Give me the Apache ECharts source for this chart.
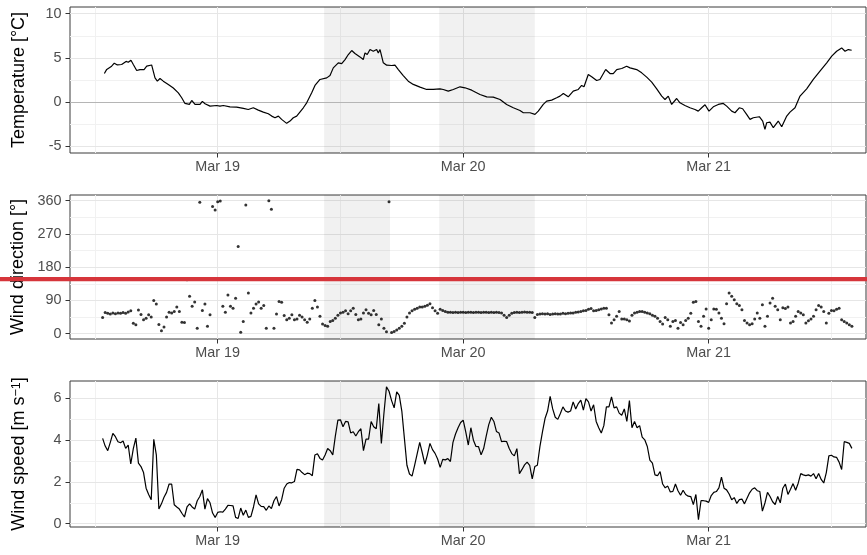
<!DOCTYPE html>
<html>
<head>
<meta charset="utf-8">
<title>Weather station</title>
<script src="https://cdn.jsdelivr.net/npm/echarts@6.0.0/dist/echarts.min.js"></script>
<style>
  html, body { margin: 0; padding: 0; background: #fff; }
  #chart { width: 867px; height: 555px; }
</style>
</head>
<body>
<div id="chart"></div>
<script>
// time is in hours since Mar 18 00:00
const dayTicks = [24, 48, 72]
const dayLabels = ['Mar 19', 'Mar 20', 'Mar 21']
const halfDays = [12, 36, 60, 84]
const shadeFrom = [34.4, 45.65]
const shadeTo = [40.85, 55.0]

const tempTicks = [-5, 0, 5, 10]
const tempMinor = [-2.5, 2.5, 7.5]
const dirTicks = [0, 90, 180, 270, 360]
const dirMinor = [45, 135, 225, 315]
const speedTicks = [0, 2, 4, 6]
const speedMinor = [1, 3, 5]

const tempTime = [12.92, 13.15, 13.63, 13.89, 14.19, 14.61, 15.04, 15.26, 15.52, 15.75, 16.08, 16.40, 16.80, 17.06, 17.54, 17.71,
  17.87, 18.10, 18.36, 18.68, 19.17, 19.66, 20.15, 20.48, 20.80, 21.23, 21.46, 21.78, 22.27, 22.50, 22.76, 23.25, 23.90,
  24.22, 24.55, 25.20, 25.85, 26.51, 26.99, 27.48, 27.97, 28.46, 28.95, 29.28, 29.60, 29.93, 30.25, 30.74, 31.07, 31.39,
  31.72, 32.37, 32.70, 33.19, 33.51, 34.00, 34.66, 34.98, 35.30, 35.79, 36.12, 36.45, 36.77, 37.10, 37.42, 37.91, 38.23,
  38.40, 38.62, 38.89, 39.21, 39.54, 39.70, 39.87, 40.19, 40.52, 41.01, 41.33, 41.66, 42.14, 42.63, 43.12, 43.78, 44.43,
  45.08, 45.73, 46.05, 46.54, 47.03, 47.69, 48.18, 48.83, 49.64, 50.30, 50.94, 51.60, 52.25, 52.90, 53.55, 53.88, 54.53,
  55.02, 55.34, 55.83, 56.16, 56.65, 57.14, 57.46, 57.79, 58.27, 58.76, 59.25, 59.58, 59.81, 60.23, 60.56, 61.05, 61.37,
  61.93, 62.35, 62.67, 63.01, 63.50, 63.98, 64.31, 64.96, 65.45, 65.94, 66.43, 66.92, 67.41, 67.73, 68.05, 68.38, 68.87,
  69.19, 69.68, 70.17, 70.66, 70.98, 71.32, 71.64, 72.03, 72.45, 72.94, 73.43, 73.76, 74.25, 74.57, 74.99, 75.32, 75.71,
  76.04, 76.36, 76.95, 77.28, 77.50, 77.67, 77.99, 78.32, 78.80, 79.14, 79.63, 79.95, 80.44, 80.93, 81.58, 82.23, 82.88,
  83.54, 84.03, 84.51, 85.00, 85.33, 85.65, 85.98]
const tempC = [3.23, 3.70, 4.06, 4.40, 4.20, 4.25, 4.60, 4.50, 4.74, 4.25, 3.57, 3.68, 3.68, 4.06, 4.20, 4.25,
  2.74, 2.37, 2.67, 2.37, 2.00, 1.60, 1.05, 0.49, -0.15, -0.26, 0.19, -0.26, -0.26, 0.08, -0.19, -0.45, -0.38,
  -0.45, -0.38, -0.53, -0.56, -0.70, -0.83, -0.64, -0.90, -1.13, -1.32, -1.58, -1.77, -1.58, -1.95, -2.40, -2.14, -1.77,
  -1.58, -0.64, -0.08, 1.05, 1.88, 2.56, 2.74, 3.00, 3.87, 4.44, 4.36, 4.81, 5.38, 5.83, 5.49, 5.11, 4.81,
  5.56, 5.38, 5.94, 5.75, 5.94, 5.56, 5.94, 4.44, 4.17, 4.14, 4.17, 3.68, 3.00, 2.37, 2.00, 1.69, 1.43,
  1.43, 1.50, 1.43, 1.24, 1.43, 1.73, 1.62, 1.35, 0.86, 0.60, 0.56, 0.30, -0.26, -0.64, -0.94, -1.20, -1.20,
  -1.39, -1.02, -0.26, 0.11, 0.23, 0.49, 0.68, 0.98, 0.60, 1.24, 1.43, 1.88, 1.73, 3.12, 2.86, 2.44, 2.56,
  3.68, 3.23, 3.23, 3.68, 3.80, 4.06, 3.87, 3.68, 3.31, 2.82, 2.26, 1.50, 0.68, 0.30, 0.68, -0.26, 0.41,
  -0.08, -0.38, -0.64, -0.83, -1.02, -0.64, -0.30, -1.02, -0.53, -0.26, -0.15, -0.45, -1.02, -1.20, -0.64, -0.75, -1.39,
  -1.95, -1.77, -1.65, -2.14, -3.08, -2.33, -2.26, -2.89, -2.14, -2.78, -1.58, -1.13, -0.64, 0.68, 1.50, 2.56, 3.50,
  4.44, 5.19, 5.75, 6.13, 5.75, 5.94, 5.86]

// wind records every 15 minutes from Mar 18 12:45
const windStart = 12.75
const windStep = 0.25
const windDir = [44,
  57, 55, 53, 56, 54, 56, 55, 57, 55, 59, 62, 28, 24, 64, 52, 38, 42, 51, 45, 90,
  80, 25, 8, 18, 45, 58, 56, 60, 72, 60, 31, 30, 146, 101, 74, 86, 15, 356, 63, 80,
  20, 51, 344, 335, 357, 359, 74, 58, 105, 74, 69, 96, 236, 4, 33, 348, 110, 56, 69, 80,
  86, 69, 76, 15, 360, 337, 15, 53, 87, 85, 49, 38, 42, 51, 38, 40, 50, 45, 38, 31,
  40, 69, 90, 72, 47, 26, 22, 20, 33, 36, 42, 50, 56, 58, 62, 54, 62, 69, 52, 38,
  40, 56, 65, 55, 51, 63, 52, 24, 40, 15, 5, 357, 3, 6, 10, 15, 20, 28, 45, 56,
  62, 66, 69, 72, 72, 74, 77, 81, 70, 62, 55, 66, 63, 60, 58, 58, 57, 58, 57, 58,
  58, 57, 58, 58, 57, 58, 58, 57, 58, 58, 57, 58, 57, 58, 57, 56, 50, 44, 50, 55,
  57, 58, 57, 58, 59, 58, 58, 57, 44, 52, 53, 54, 53, 54, 52, 53, 54, 53, 53, 55,
  54, 55, 56, 56, 58, 59, 60, 62, 63, 66, 68, 62, 63, 65, 67, 69, 69, 51, 29, 38,
  47, 60, 40, 40, 38, 34, 50, 56, 58, 60, 60, 58, 56, 54, 50, 47, 42, 33, 26, 44,
  38, 20, 33, 36, 15, 30, 24, 36, 42, 55, 85, 87, 33, 20, 47, 67, 15, 38, 67, 66,
  56, 42, 27, 81, 110, 101, 92, 81, 76, 65, 36, 29, 24, 27, 40, 56, 42, 78, 20, 47,
  83, 96, 74, 65, 38, 70, 68, 72, 29, 33, 47, 60, 56, 51, 29, 35, 40, 47, 65, 76,
  72, 60, 29, 55, 63, 62, 66, 69, 38, 33, 29, 24,
  20]
const windSpeed = [4.09,
  3.72, 3.5, 3.9, 4.33, 4.17, 3.93, 3.88, 3.96, 3.61, 3.77, 2.86, 3.6, 4.1, 2.9, 2.74, 2.45,
  1.7, 1.4, 1.15, 4.04, 3.3, 0.7, 0.95, 1.27, 1.5, 1.9, 1.9, 0.91, 0.8, 0.7, 0.5, 0.32,
  0.8, 0.95, 0.8, 0.7, 1.1, 1.3, 1.62, 0.7, 1.2, 1.0, 0.51, 0.3, 0.54, 0.57, 0.55, 0.7,
  0.88, 0.87, 0.85, 0.3, 0.25, 0.75, 0.4, 0.65, 0.3, 0.35, 0.8, 1.38, 0.95, 0.83, 0.82, 0.64,
  0.85, 0.72, 1.1, 1.3, 0.85, 1.15, 1.7, 1.9, 1.97, 1.96, 2.02, 2.6, 2.58, 2.45, 2.35, 2.42,
  2.4, 2.3, 3.29, 3.35, 3.13, 3.05, 3.29, 3.6, 3.5, 3.3, 4.2, 4.96, 4.98, 4.65, 4.9, 4.88,
  4.35, 4.41, 4.2, 4.41, 4.55, 3.5, 4.05, 4.05, 4.9, 4.65, 4.55, 5.76, 3.85, 5.28, 6.56, 6.35,
  5.9, 5.55, 6.32, 6.15, 5.4, 4.1, 2.8, 2.38, 2.28, 2.8, 3.35, 3.9, 3.4, 2.85, 3.3, 3.85,
  3.55, 3.37, 3.1, 2.7, 3.08, 3.06, 3.12, 2.98, 3.9, 4.3, 4.6, 4.85, 4.96, 4.4, 3.77, 4.6,
  4.0, 3.7, 3.69, 3.3, 3.6, 4.2, 4.75, 5.1, 4.9, 4.42, 4.35, 3.93, 3.95, 3.93, 3.6, 3.36,
  3.25, 3.6, 2.4, 2.6, 2.82, 2.95, 2.8, 2.15, 2.74, 2.8, 3.69, 4.4, 5.04, 5.4, 6.1, 5.5,
  5.1, 5.0, 5.28, 5.6, 5.4, 5.35, 5.4, 5.84, 5.5, 5.76, 5.92, 5.44, 6.0, 5.84, 5.4, 5.7,
  4.9, 4.6, 4.35, 4.7, 5.6, 5.6, 6.08, 5.55, 5.6, 5.3, 5.2, 5.5, 4.9, 5.9, 4.6, 4.9,
  4.6, 4.7, 4.15, 4.02, 3.7, 3.05, 2.9, 2.34, 2.3, 2.5, 1.9, 1.72, 1.8, 1.52, 1.55, 1.9,
  1.58, 1.36, 1.6, 1.4, 1.32, 1.3, 0.91, 1.4, 0.19, 1.1, 1.1, 1.08, 1.02, 1.35, 1.5, 1.54,
  1.72, 2.23, 1.7, 1.62, 1.42, 1.15, 1.25, 0.97, 1.15, 1.18, 0.95, 1.22, 1.48, 1.65, 1.72, 1.58,
  1.54, 0.6, 0.99, 1.5, 1.3, 1.05, 0.92, 1.3, 1.0, 1.7, 1.9, 1.4, 1.65, 1.92, 1.6, 1.94,
  2.4, 2.34, 2.3, 2.34, 2.28, 2.4, 2.15, 2.4, 2.12, 1.95, 2.45, 3.25, 3.28, 3.2, 3.18, 2.95,
  2.6, 3.93, 3.9, 3.85,
  3.61]

const font = 'Liberation Sans, Arial, Helvetica, sans-serif'
const xMin = 9.56
const xMax = 87.38

const tempData = tempTime.map((t, i) => [t, tempC[i]])
const dirData = windDir.map((v, i) => [windStart + i * windStep, v])
const speedData = windSpeed.map((v, i) => [windStart + i * windStep, v])

const majorLine = { color: '#e6e6e6', width: 1, type: 'solid' }
const minorLine = { color: '#f1f1f1', width: 1, type: 'solid' }

function timeAxis (i) {
    return {
        type: 'value',
        gridIndex: i,
        min: xMin,
        max: xMax,
        axisLine: { show: false, onZero: false },
        axisTick: { show: true, length: 4.5, customValues: dayTicks, lineStyle: { color: '#333', width: 1 } },
        axisLabel: {
            customValues: dayTicks,
            formatter: v => dayLabels[dayTicks.indexOf(v)],
            color: '#4d4d4d',
            fontSize: 14.4,
            fontFamily: font,
            margin: 7
        },
        splitLine: { show: false }
    }
}

function valueAxis (i, name, min, max, ticks, rich) {
    return {
        type: 'value',
        gridIndex: i,
        min: min,
        max: max,
        name: name,
        nameLocation: 'middle',
        nameGap: 42,
        nameTextStyle: { fontSize: 18, color: '#000', fontFamily: font, rich: rich },
        axisLine: { show: false, onZero: false },
        axisTick: { show: true, length: 4.5, customValues: ticks, lineStyle: { color: '#333', width: 1 } },
        axisLabel: { customValues: ticks, color: '#4d4d4d', fontSize: 14.4, fontFamily: font, margin: 8.5 },
        splitLine: { show: false }
    }
}

// background grid lines for a panel
function gridLines (i, majors, minors) {
    return {
        type: 'line',
        xAxisIndex: i,
        yAxisIndex: i,
        data: [],
        z: 1,
        silent: true,
        markLine: {
            z: 1,
            silent: true,
            symbol: 'none',
            label: { show: false },
            lineStyle: majorLine,
            data: [
                ...halfDays.map(v => ({ xAxis: v, lineStyle: minorLine })),
                ...minors.map(v => ({ yAxis: v, lineStyle: minorLine })),
                ...dayTicks.map(v => ({ xAxis: v, lineStyle: majorLine })),
                ...majors.map(v => ({ yAxis: v, lineStyle: majorLine }))
            ]
        }
    }
}

function shading (i) {
    return {
        type: 'line',
        xAxisIndex: i,
        yAxisIndex: i,
        data: [],
        z: 2,
        silent: true,
        markArea: {
            z: 2,
            silent: true,
            itemStyle: { color: 'rgba(0,0,0,0.055)' },
            data: shadeFrom.map((s, k) => [{ xAxis: s }, { xAxis: shadeTo[k] }])
        }
    }
}

const myChart = echarts.init(document.getElementById('chart'))
myChart.setOption({
    animation: false,
    backgroundColor: '#fff',
    grid: [
        { left: 70, top: 7, width: 796, height: 146, show: true, borderColor: '#3a3a3a', borderWidth: 1, backgroundColor: 'transparent' },
        { left: 70, top: 195, width: 796, height: 144, show: true, borderColor: '#3a3a3a', borderWidth: 1, backgroundColor: 'transparent' },
        { left: 70, top: 381, width: 796, height: 146, show: true, borderColor: '#3a3a3a', borderWidth: 1, backgroundColor: 'transparent' }
    ],
    xAxis: [timeAxis(0), timeAxis(1), timeAxis(2)],
    yAxis: [
        valueAxis(0, 'Temperature [°C]', -5.75, 10.75, tempTicks),
        valueAxis(1, 'Wind direction [°]', -14.4, 375.3, dirTicks),
        valueAxis(2, 'Wind speed [m s{sup|−1}]', -0.16, 6.84, speedTicks, {
            sup: { fontSize: 12.5, lineHeight: 12, verticalAlign: 'top', color: '#000', fontFamily: font }
        })
    ],
    series: [
        gridLines(0, tempTicks, tempMinor),
        gridLines(1, dirTicks, dirMinor),
        gridLines(2, speedTicks, speedMinor),
        shading(0),
        shading(1),
        shading(2),
        {
            name: 'Zero',
            type: 'line',
            xAxisIndex: 0,
            yAxisIndex: 0,
            data: [],
            z: 2,
            silent: true,
            markLine: {
                z: 2,
                silent: true,
                symbol: 'none',
                label: { show: false },
                lineStyle: { color: '#b5b5b5', width: 1, type: 'solid' },
                data: [{ yAxis: 0 }]
            }
        },
        {
            name: 'Temperature',
            type: 'line',
            xAxisIndex: 0,
            yAxisIndex: 0,
            data: tempData,
            z: 3,
            showSymbol: false,
            lineStyle: { color: '#000', width: 1.2 }
        },
        {
            name: 'Wind direction',
            type: 'scatter',
            xAxisIndex: 1,
            yAxisIndex: 1,
            data: dirData,
            z: 3,
            symbolSize: 3,
            itemStyle: { color: '#000' }
        },
        {
            name: 'Wind speed',
            type: 'line',
            xAxisIndex: 2,
            yAxisIndex: 2,
            data: speedData,
            z: 3,
            showSymbol: false,
            lineStyle: { color: '#000', width: 1.2 }
        }
    ],
    graphic: [
        {
            type: 'rect',
            z: 100,
            shape: { x: 0, y: 277, width: 867, height: 4.3 },
            style: { fill: '#d6353b' }
        }
    ]
})
</script>
</body>
</html>
